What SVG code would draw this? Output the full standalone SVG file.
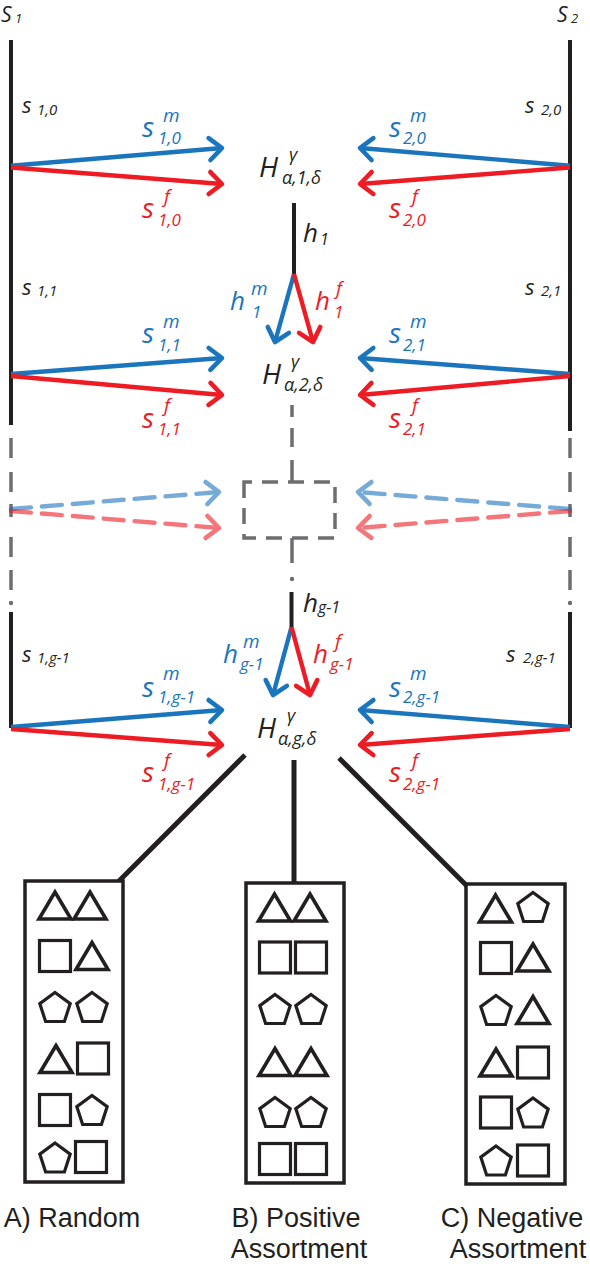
<svg xmlns="http://www.w3.org/2000/svg" xmlns:xlink="http://www.w3.org/1999/xlink" width="590" height="1264" viewBox="0 0 590 1264">
<style>
.m{font-family:"Open Sans","Noto Sans",sans-serif;font-style:italic}
.k{fill:#231f20}.b{fill:#1b75bc}.r{fill:#ed1c24}
.lbl{font-family:"Liberation Sans",Arial,sans-serif;font-size:27px;fill:#231f20;text-anchor:middle}
.vl{stroke:#231f20;stroke-width:4;fill:none}
.cn{stroke:#231f20;stroke-width:5;fill:none}
.gd{stroke:#6d6e71;stroke-width:3.5;fill:none}
.ab{stroke:#1b75bc;stroke-width:4.4;fill:none;marker-end:url(#mb)}
.ar{stroke:#ed1c24;stroke-width:4.4;fill:none;marker-end:url(#mr)}
.dsh{stroke-dasharray:20 11;stroke-linecap:round}
.box{stroke:#231f20;stroke-width:3.5;fill:#fff}
.sh{stroke:#231f20;stroke-width:3.2;fill:none}
.tr{stroke-width:3.6}
</style>
<defs>
<marker id="mb" viewBox="-18 -15 22 30" refX="0" refY="0" markerWidth="22" markerHeight="30" markerUnits="userSpaceOnUse" orient="auto" overflow="visible"><path d="M-12.5,-11 L0,0 L-12.5,11" fill="none" stroke="#1b75bc" stroke-width="4.6" stroke-linecap="round" stroke-linejoin="round"/></marker>
<marker id="mr" viewBox="-18 -15 22 30" refX="0" refY="0" markerWidth="22" markerHeight="30" markerUnits="userSpaceOnUse" orient="auto" overflow="visible"><path d="M-12.5,-11 L0,0 L-12.5,11" fill="none" stroke="#ed1c24" stroke-width="4.6" stroke-linecap="round" stroke-linejoin="round"/></marker>
<polygon id="tri" class="sh tr" points="-16,13.5 0,-13.5 16,13.5"/>
<rect id="sq" class="sh" x="-15.5" y="-15.5" width="31" height="31"/>
<polygon id="pen" class="sh" points="0,-14.5 15.2,-3.4 9.4,14.5 -9.4,14.5 -15.2,-3.4"/>
</defs>
<rect width="590" height="1264" fill="#fff"/>

<g id="connectors">
  <path class="vl" d="M11,40 V425 M11,612 V728 M570,40 V431 M570,612 V728"/>
  <path class="gd" d="M11,438 V458 M11,472 V492 M11,504 V517 M11,537 V557 M11,570 V590 M570,438 V458 M570,472 V492 M570,504 V517 M570,537 V557 M570,570 V590"/>
  <circle cx="11" cy="603" r="2.2" fill="#6d6e71"/>
  <circle cx="570" cy="603" r="2.2" fill="#6d6e71"/>
  <path class="vl" d="M294,203 V274 M291.5,592 V627"/>
  <path class="gd" d="M292,405 V417 M292,428 V447 M292,460 V482 M292,538 V563"/>
  <circle cx="292" cy="579" r="2.2" fill="#6d6e71"/>
  <line class="ab" x1="11" y1="165.7" x2="222" y2="148"/>
  <line class="ar" x1="11" y1="167.5" x2="222" y2="184"/>
  <line class="ab" x1="570" y1="165.7" x2="360" y2="148"/>
  <line class="ar" x1="570" y1="167.5" x2="360" y2="184"/>
  <line class="ab" x1="294" y1="274" x2="275" y2="342"/>
  <line class="ar" x1="294" y1="274" x2="313" y2="342"/>
  <line class="ab" x1="11" y1="374" x2="222" y2="358"/>
  <line class="ar" x1="11" y1="376" x2="222" y2="395"/>
  <line class="ab" x1="570" y1="374" x2="360" y2="358"/>
  <line class="ar" x1="570" y1="376" x2="360" y2="395"/>
  <g opacity="0.6"><line class="ab dsh" x1="11" y1="509" x2="219" y2="492"/></g>
  <g opacity="0.6"><line class="ar dsh" x1="11" y1="511" x2="219" y2="528"/></g>
  <g opacity="0.6"><line class="ab dsh" x1="570" y1="509" x2="358" y2="492"/></g>
  <g opacity="0.6"><line class="ar dsh" x1="570" y1="511" x2="358" y2="528"/></g>
  <line class="ab" x1="291.5" y1="627" x2="273" y2="695"/>
  <line class="ar" x1="291.5" y1="627" x2="310" y2="695"/>
  <line class="ab" x1="11" y1="727" x2="222" y2="710"/>
  <line class="ar" x1="11" y1="729" x2="222" y2="745"/>
  <line class="ab" x1="570" y1="727" x2="360" y2="710"/>
  <line class="ar" x1="570" y1="729" x2="360" y2="745"/>
  <line class="cn" x1="245" y1="755" x2="118" y2="882"/>
  <line class="cn" x1="294" y1="760" x2="294" y2="884"/>
  <line class="cn" x1="339" y1="758" x2="467" y2="886"/>
</g>

<g id="S1">
  <text class="m k"><tspan x="1" y="22" font-size="21">S</tspan><tspan x="15" y="23" font-size="13">1</tspan></text>
  <text class="m k"><tspan x="22" y="113" font-size="22">s</tspan><tspan x="37" y="115" font-size="15">1,0</tspan></text>
  <text class="m k"><tspan x="22" y="295" font-size="22">s</tspan><tspan x="37" y="296" font-size="15">1,1</tspan></text>
  <text class="m k"><tspan x="22" y="662" font-size="22">s</tspan><tspan x="37" y="663" font-size="15">1,g-1</tspan></text>
  <text class="m b"><tspan x="142" y="137" font-size="28">s</tspan><tspan x="163" y="122" font-size="19">m</tspan><tspan x="158" y="144" font-size="17">1,0</tspan></text>
  <text class="m r"><tspan x="142" y="218" font-size="28">s</tspan><tspan x="164" y="203" font-size="19">f</tspan><tspan x="158" y="226" font-size="17">1,0</tspan></text>
  <text class="m b"><tspan x="142" y="343" font-size="28">s</tspan><tspan x="163" y="328" font-size="19">m</tspan><tspan x="158" y="351" font-size="17">1,1</tspan></text>
  <text class="m r"><tspan x="142" y="428" font-size="28">s</tspan><tspan x="164" y="412" font-size="19">f</tspan><tspan x="158" y="435" font-size="17">1,1</tspan></text>
  <text class="m b"><tspan x="142" y="697" font-size="28">s</tspan><tspan x="163" y="680" font-size="19">m</tspan><tspan x="158" y="703" font-size="17">1,g-1</tspan></text>
  <text class="m r"><tspan x="142" y="782" font-size="28">s</tspan><tspan x="164" y="767" font-size="19">f</tspan><tspan x="158" y="790" font-size="17">1,g-1</tspan></text>
</g>

<g id="S2">
  <text class="m k"><tspan x="557" y="22" font-size="21">S</tspan><tspan x="571" y="23" font-size="13">2</tspan></text>
  <text class="m k"><tspan x="525" y="113" font-size="22">s</tspan><tspan x="541" y="115" font-size="15">2,0</tspan></text>
  <text class="m k"><tspan x="525" y="295" font-size="22">s</tspan><tspan x="541" y="296" font-size="15">2,1</tspan></text>
  <text class="m k"><tspan x="506" y="662" font-size="22">s</tspan><tspan x="523" y="663" font-size="15">2,g-1</tspan></text>
  <text class="m b"><tspan x="389" y="137" font-size="28">s</tspan><tspan x="410" y="122" font-size="19">m</tspan><tspan x="403" y="144" font-size="17">2,0</tspan></text>
  <text class="m r"><tspan x="389" y="218" font-size="28">s</tspan><tspan x="412" y="203" font-size="19">f</tspan><tspan x="403" y="226" font-size="17">2,0</tspan></text>
  <text class="m b"><tspan x="389" y="343" font-size="28">s</tspan><tspan x="410" y="328" font-size="19">m</tspan><tspan x="403" y="351" font-size="17">2,1</tspan></text>
  <text class="m r"><tspan x="389" y="428" font-size="28">s</tspan><tspan x="412" y="412" font-size="19">f</tspan><tspan x="403" y="435" font-size="17">2,1</tspan></text>
  <text class="m b"><tspan x="389" y="697" font-size="28">s</tspan><tspan x="410" y="680" font-size="19">m</tspan><tspan x="403" y="703" font-size="17">2,g-1</tspan></text>
  <text class="m r"><tspan x="389" y="782" font-size="28">s</tspan><tspan x="412" y="767" font-size="19">f</tspan><tspan x="403" y="790" font-size="17">2,g-1</tspan></text>
</g>

<g id="H1">
  <text class="m k"><tspan x="259" y="177" font-size="28">H</tspan><tspan x="289" y="161" font-size="18">γ</tspan><tspan x="282" y="184" font-size="18">α,1,δ</tspan></text>
  <text class="m k"><tspan x="303" y="242" font-size="26">h</tspan><tspan x="320" y="245" font-size="16">1</tspan></text>
  <text class="m b"><tspan x="230" y="310" font-size="26">h</tspan><tspan x="251" y="295" font-size="19">m</tspan><tspan x="252" y="318" font-size="17">1</tspan></text>
  <text class="m r"><tspan x="315" y="310" font-size="26">h</tspan><tspan x="336" y="295" font-size="19">f</tspan><tspan x="334" y="318" font-size="17">1</tspan></text>
</g>

<g id="H2">
  <text class="m k"><tspan x="262" y="384" font-size="28">H</tspan><tspan x="291" y="368" font-size="18">γ</tspan><tspan x="284" y="391" font-size="18">α,2,δ</tspan></text>
</g>

<g id="Hdots">
  <path class="gd" stroke-width="3" stroke-dasharray="16 10" d="M244,482 V538 H335 V482 Z"/>
</g>

<g id="Hg">
  <text class="m k"><tspan x="303" y="612" font-size="26">h</tspan><tspan x="318" y="613" font-size="16">g-1</tspan></text>
  <text class="m b"><tspan x="223" y="663" font-size="26">h</tspan><tspan x="243" y="648" font-size="19">m</tspan><tspan x="240" y="670" font-size="17">g-1</tspan></text>
  <text class="m r"><tspan x="313" y="663" font-size="26">h</tspan><tspan x="335" y="648" font-size="19">f</tspan><tspan x="330" y="670" font-size="17">g-1</tspan></text>
  <text class="m k"><tspan x="257" y="738" font-size="28">H</tspan><tspan x="287" y="722" font-size="18">γ</tspan><tspan x="278" y="745" font-size="18">α,g,δ</tspan></text>
</g>

<g id="boxA">
  <rect class="box" x="25" y="881" width="98" height="301"/>
  <use xlink:href="#tri" x="55" y="905.5"/><use xlink:href="#tri" x="90" y="905.5"/>
  <use xlink:href="#sq" x="55" y="956"/><use xlink:href="#tri" x="92" y="956"/>
  <use xlink:href="#pen" x="55" y="1007"/><use xlink:href="#pen" x="92" y="1007"/>
  <use xlink:href="#tri" x="56" y="1059"/><use xlink:href="#sq" x="93" y="1058.5"/>
  <use xlink:href="#sq" x="55" y="1110"/><use xlink:href="#pen" x="92" y="1110"/>
  <use xlink:href="#pen" x="55" y="1157.5"/><use xlink:href="#sq" x="91" y="1157"/>
  <text class="lbl" x="72" y="1227">A) Random</text>
</g>

<g id="boxB">
  <rect class="box" x="246" y="883" width="98" height="300"/>
  <use xlink:href="#tri" x="274.5" y="907.5"/><use xlink:href="#tri" x="310" y="907.5"/>
  <use xlink:href="#sq" x="275" y="957.5"/><use xlink:href="#sq" x="311" y="957.5"/>
  <use xlink:href="#pen" x="275" y="1009"/><use xlink:href="#pen" x="311" y="1009"/>
  <use xlink:href="#tri" x="275" y="1062"/><use xlink:href="#tri" x="311" y="1062"/>
  <use xlink:href="#pen" x="275" y="1112"/><use xlink:href="#pen" x="311" y="1112"/>
  <use xlink:href="#sq" x="275" y="1159"/><use xlink:href="#sq" x="311" y="1159"/>
  <text class="lbl"><tspan x="296" y="1227">B) Positive</tspan><tspan x="299" y="1258">Assortment</tspan></text>
</g>

<g id="boxC">
  <rect class="box" x="466" y="884" width="99" height="300"/>
  <use xlink:href="#tri" x="495.5" y="908.5"/><use xlink:href="#pen" x="533" y="907"/>
  <use xlink:href="#sq" x="496" y="958"/><use xlink:href="#tri" x="533" y="957.5"/>
  <use xlink:href="#pen" x="496" y="1010"/><use xlink:href="#tri" x="533" y="1010"/>
  <use xlink:href="#tri" x="496" y="1062.5"/><use xlink:href="#sq" x="533" y="1062.5"/>
  <use xlink:href="#sq" x="496" y="1112.5"/><use xlink:href="#pen" x="533" y="1112.5"/>
  <use xlink:href="#pen" x="496" y="1160.5"/><use xlink:href="#sq" x="533" y="1160.5"/>
  <text class="lbl"><tspan x="512" y="1227">C) Negative</tspan><tspan x="518" y="1258">Assortment</tspan></text>
</g>
</svg>
